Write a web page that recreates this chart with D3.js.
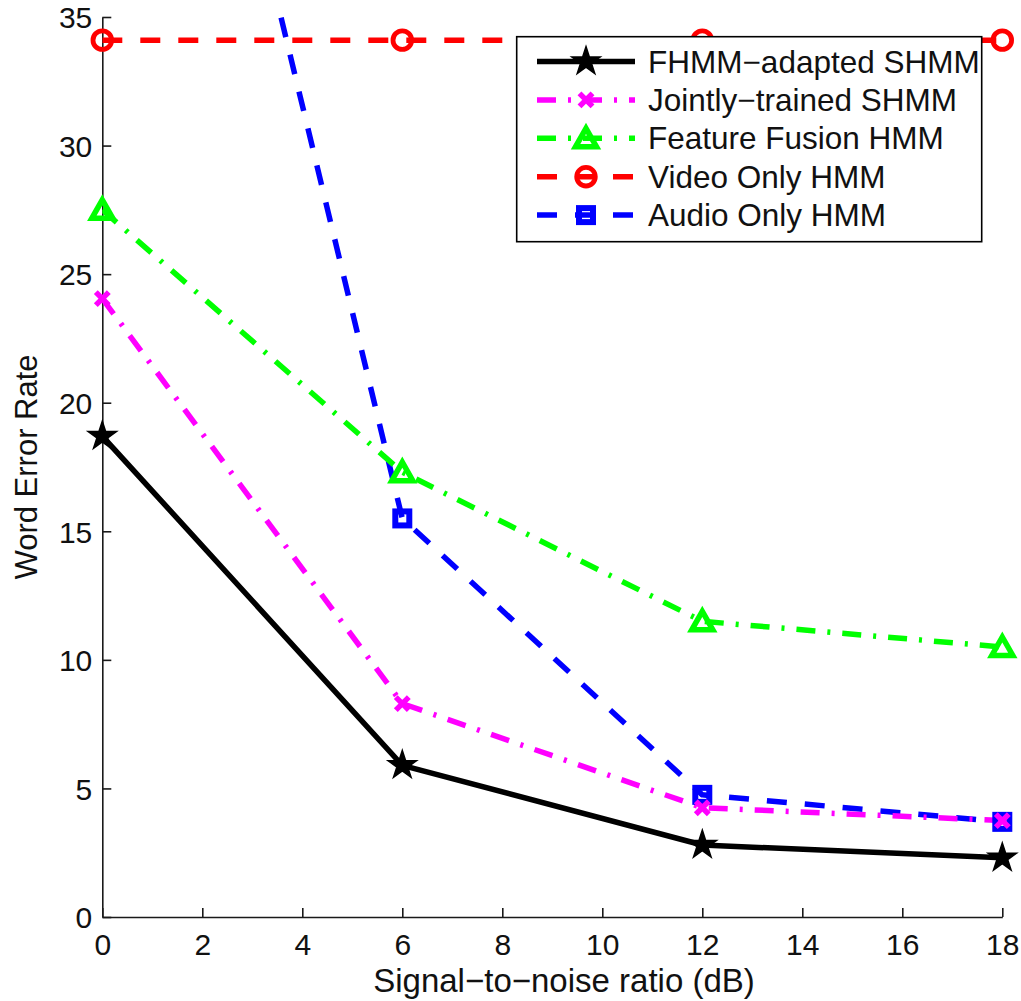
<!DOCTYPE html>
<html>
<head>
<meta charset="utf-8">
<script src="https://cdn.jsdelivr.net/npm/d3@7"></script>
<style>
  html, body { margin: 0; padding: 0; background: #fff; }
  svg { display: block; font-family: "Liberation Sans", Arial, Helvetica, sans-serif; }
</style>
</head>
<body>
<svg id="chart" width="1021" height="1001"></svg>
<script>
// Signal-to-noise ratio levels (dB)
const snr = [0, 6, 12, 18];

// Word error rate per model
const fhmmAdapted    = [18.7, 5.9, 2.8, 2.3];
const jointlyTrained = [24.05, 8.3, 4.25, 3.75];
const featureFusion  = [27.5, 17.3, 11.5, 10.5];
const videoOnly      = [34.1, 34.1, 34.1, 34.1];
const audioOnly      = [63.7, 15.5, 4.75, 3.7];

const seriesNames = [
  "FHMM\u2212adapted SHMM",
  "Jointly\u2212trained SHMM",
  "Feature Fusion HMM",
  "Video Only HMM",
  "Audio Only HMM"
];

const xTicks = [0, 2, 4, 6, 8, 10, 12, 14, 16, 18];
const yTicks = [0, 5, 10, 15, 20, 25, 30, 35];

const xLabel = "Signal\u2212to\u2212noise ratio (dB)";
const yLabel = "Word Error Rate";

// Per-series drawing style
const styles = [
  { color: "#000000", width: 5.5, dash: null,          marker: "star" },
  { color: "#ff00ff", width: 5.5, dash: "19,12,3,12",  marker: "x" },
  { color: "#00ff00", width: 5.5, dash: "19,12,3,12",  marker: "triangle" },
  { color: "#ff0000", width: 5.5, dash: "20,18",       marker: "circle" },
  { color: "#0000ff", width: 5.5, dash: "20,18",       marker: "square" }
];

const seriesValues = [fhmmAdapted, jointlyTrained, featureFusion, videoOnly, audioOnly];
const series = seriesNames.map((name, i) => ({
  name,
  style: styles[i],
  points: snr.map((x, j) => ({ x, y: seriesValues[i][j] }))
}));

const svg = d3.select("#chart");
const plot = { left: 102.3, right: 1002.3, top: 17, bottom: 917 };

const x = d3.scaleLinear().domain([0, 18]).range([plot.left, plot.right]);
const y = d3.scaleLinear().domain([0, 35]).range([plot.bottom, plot.top]);

svg.append("defs").append("clipPath").attr("id", "plotClip")
  .append("rect")
  .attr("x", plot.left).attr("y", plot.top)
  .attr("width", plot.right - plot.left)
  .attr("height", plot.bottom - plot.top);

// Axes: left and bottom only, ticks pointing inward
const axisColor = "#1a1a1a";
const xAxis = d3.axisBottom(x).tickValues(xTicks).tickFormat(d3.format("d"))
  .tickSizeInner(-9).tickSizeOuter(0).tickPadding(17);
const yAxis = d3.axisLeft(y).tickValues(yTicks).tickFormat(d3.format("d"))
  .tickSizeInner(-9).tickSizeOuter(0).tickPadding(10);

const gx = svg.append("g").attr("transform", `translate(0,${plot.bottom})`).call(xAxis);
const gy = svg.append("g").attr("transform", `translate(${plot.left},0)`).call(yAxis);

[gx, gy].forEach(g => {
  g.select(".domain").attr("stroke", axisColor).attr("stroke-width", 1.6);
  g.selectAll(".tick line").attr("stroke", axisColor).attr("stroke-width", 1.6);
  g.selectAll(".tick text")
    .attr("fill", "#111")
    .style("font-size", "30px")
    .style("font-family", "'Liberation Sans', Arial, Helvetica, sans-serif");
});
gy.selectAll(".tick text").attr("dy", "0.36em");

// Axis titles
svg.append("text")
  .attr("x", 564).attr("y", 992)
  .attr("text-anchor", "middle")
  .attr("fill", "#111")
  .style("font-size", "33px")
  .text(xLabel);

svg.append("text")
  .attr("transform", `translate(37,${(plot.top + plot.bottom) / 2}) rotate(-90)`)
  .attr("text-anchor", "middle")
  .attr("fill", "#111")
  .style("font-size", "31px")
  .text(yLabel);

// Marker drawing
function drawMarker(g, kind, color) {
  switch (kind) {
    case "star":
      g.append("path")
        .attr("d", d3.symbol().type(d3.symbolStar).size(250)())
        .attr("fill", color).attr("stroke", color).attr("stroke-width", 1.5)
        .attr("stroke-linejoin", "miter");
      break;
    case "x":
      g.append("path")
        .attr("d", "M-6.5,-6.5L6.5,6.5M-6.5,6.5L6.5,-6.5")
        .attr("fill", "none").attr("stroke", color).attr("stroke-width", 5.5);
      break;
    case "triangle":
      g.append("path")
        .attr("d", "M0,-10L10.5,8.5L-10.5,8.5Z")
        .attr("fill", "none").attr("stroke", color).attr("stroke-width", 5.5)
        .attr("stroke-linejoin", "miter");
      break;
    case "circle":
      g.append("circle").attr("r", 9.3)
        .attr("fill", "none").attr("stroke", color).attr("stroke-width", 4.8);
      break;
    case "square":
      g.append("rect").attr("x", -7).attr("y", -7).attr("width", 14).attr("height", 14)
        .attr("fill", "none").attr("stroke", color).attr("stroke-width", 6);
      break;
  }
}

const line = d3.line().x(d => x(d.x)).y(d => y(d.y));

// Lines are clipped to the axes box; markers are drawn on top
const drawOrder = [4, 3, 2, 1, 0];
const linesG = svg.append("g").attr("clip-path", "url(#plotClip)");
drawOrder.forEach(i => {
  const s = series[i];
  linesG.append("path")
    .datum(s.points)
    .attr("d", line)
    .attr("fill", "none")
    .attr("stroke", s.style.color)
    .attr("stroke-width", s.style.width)
    .attr("stroke-dasharray", s.style.dash)
    .attr("stroke-linecap", "butt")
    .attr("stroke-linejoin", "round");
});

const markersG = svg.append("g");
drawOrder.forEach(i => {
  const s = series[i];
  s.points.filter(p => p.y <= 35).forEach(p => {
    const mg = markersG.append("g").attr("transform", `translate(${x(p.x)},${y(p.y)})`);
    drawMarker(mg, s.style.marker, s.style.color);
  });
});

// Legend
const legend = { x: 516.7, y: 36.7, w: 465, h: 205, rowY0: 61.5, rowStep: 38.4 };
const lg = svg.append("g");
lg.append("rect")
  .attr("x", legend.x).attr("y", legend.y)
  .attr("width", legend.w).attr("height", legend.h)
  .attr("fill", "#fff").attr("stroke", "#000").attr("stroke-width", 1.6);

series.forEach((s, i) => {
  const ry = legend.rowY0 + i * legend.rowStep;
  lg.append("path")
    .attr("d", `M537,${ry}L635,${ry}`)
    .attr("fill", "none")
    .attr("stroke", s.style.color)
    .attr("stroke-width", s.style.width)
    .attr("stroke-dasharray", s.style.dash);
  const mg = lg.append("g").attr("transform", `translate(586,${ry})`);
  drawMarker(mg, s.style.marker, s.style.color);
  lg.append("text")
    .attr("x", 648).attr("y", ry + 11)
    .attr("fill", "#111")
    .style("font-size", "31.5px")
    .text(s.name);
});
</script>
</body>
</html>
